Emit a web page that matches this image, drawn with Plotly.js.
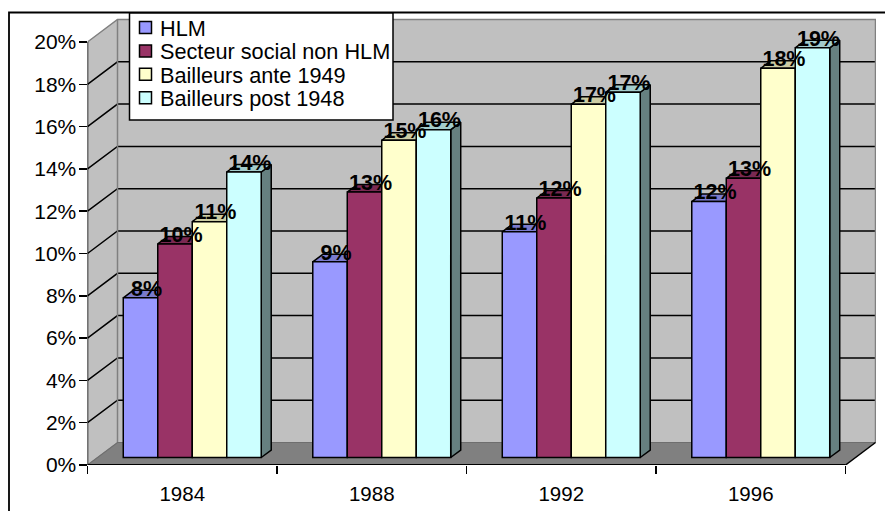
<!DOCTYPE html>
<html><head><meta charset="utf-8">
<script src="https://cdn.plot.ly/plotly-3.0.0.min.js"></script>
<style>html,body{margin:0;padding:0;background:#fff;overflow:hidden}</style>
</head><body><div id="chart" style="width:885px;height:511px"></div>
<script>
const years = ['1984','1988','1992','1996'];
const seriesNames = ['HLM','Secteur social non HLM','Bailleurs ante 1949','Bailleurs post 1948'];
const hlm = [7.55,9.25,10.67,12.1];
const secteur = [10.1,12.55,12.27,13.2];
const ante = [11.15,15,16.7,18.4];
const post = [13.5,15.5,17.27,19.37];
const faceColors = ['#9999FF','#993366','#FFFFCC','#CCFFFF'];
const topColors = ['#7A7ACC','#7A2952','#CCCCA3','#A3CCCC'];
const sideColors = ['#4C4C80','#4C1A33','#808066','#668080'];
const yTicks = [0,2,4,6,8,10,12,14,16,18,20];
const allValues = [hlm,secteur,ante,post];

const W=885,H=511;
const PXX=189.5, PXY=21.15;           // pixels per unit
const L=87.5,R=876,B=465,T=12;
const depthX=30/PXX, depthY=22.5/PXY;
const xRange=[-0.5,-0.5+(R-L)/PXX], yRange=[0,(B-T)/PXY];
const barW=0.182;
const font='"Liberation Sans", Arial, sans-serif';

function poly(xs,ys,fill,line,lw){
  return {type:'scatter',mode:'lines',x:xs.concat(xs[0]),y:ys.concat(ys[0]),fill:'toself',fillcolor:fill,
    line:{color:line||fill,width:lw||0.5},showlegend:false,hoverinfo:'skip',cliponaxis:false,xaxis:'x',yaxis:'y'};
}
function seg(xs,ys,color,w){
  return {type:'scatter',mode:'lines',x:xs,y:ys,line:{color:color,width:w},connectgaps:false,showlegend:false,hoverinfo:'skip',cliponaxis:false,xaxis:'x',yaxis:'y'};
}
const x0=-0.5,x1=3.5;
const traces=[];
// walls and floor
traces.push(poly([x0,x0,x0+depthX,x0+depthX],[0,20,20+depthY,depthY],'#C0C0C0'));
traces.push(poly([x0+depthX,x1+depthX,x1+depthX,x0+depthX],[depthY,depthY,20+depthY,20+depthY],'#C0C0C0'));
traces.push(poly([x0,x1,x1+depthX,x0+depthX],[0,0,depthY,depthY],'#808080'));
// gridlines
let gx=[],gy=[];
yTicks.slice(1,-1).forEach(v=>{gx.push(x0,x0+depthX,x1+depthX,null);gy.push(v,v+depthY,v+depthY,null);});
traces.push(seg(gx,gy,'#000',1.5));
// wall edges
traces.push(seg([x0,x0+depthX,x1+depthX,x1+depthX],[20,20+depthY,20+depthY,depthY],'#808080',1.5));
traces.push(seg([x0+depthX,x0+depthX],[20+depthY,depthY],'#808080',1.5));
traces.push(seg([x0,x0+depthX,x1+depthX],[0,depthY,depthY],'#6e6e6e',1.2));
traces.push(seg([x1,x1+depthX],[0,depthY],'#000',1.5));
// axis lines
traces.push(seg([x0,x0],[0,20],'#000',1.5));
traces.push(seg([x0,x1],[0,0],'#000',1.8));
// bar tops and sides (depth faces), on the base subplot
allValues.forEach((vals,s)=>{
  vals.forEach((v,i)=>{
    const xl=i+depthX/3+(s-2)*barW, xr=xl+barW;
    const yb=depthY/3, yt=yb+v, dx=depthX/3, dy=depthY/3;
    traces.push(poly([xr,xr+dx,xr+dx,xr],[yb,yb+dy,yt+dy,yt],sideColors[s],'#000',1.5));
    traces.push(poly([xl,xr,xr+dx,xl+dx],[yt,yt,yt+dy,yt+dy],topColors[s],'#000',1.5));
  });
});
// front faces: real bars on the overlay subplot
allValues.forEach((vals,s)=>{
  traces.push({type:'bar',name:seriesNames[s],x:years.map((_,i)=>i+depthX/3),y:vals,
    base:vals.map(()=>depthY/3),xaxis:'x2',yaxis:'y2',
    marker:{color:faceColors[s],line:{color:'#000',width:1.5}},hoverinfo:'skip'});
});
// data labels
allValues.forEach((vals,s)=>{
  traces.push({type:'scatter',mode:'text',xaxis:'x2',yaxis:'y2',showlegend:false,hoverinfo:'skip',cliponaxis:false,
    x:vals.map((_,i)=>i+depthX/3+(s-1.5)*barW+depthX/5),
    y:vals.map(v=>v+depthY/3+0.36),
    text:vals.map(v=>Math.round(v)+'%'),textposition:'middle center',
    textfont:{family:font,size:21.5,color:'#000',weight:'bold'}});
});
const px=x=>x/W, py=y=>1-y/H;
const layout={
  width:W,height:H,margin:{l:0,r:0,t:0,b:0},paper_bgcolor:'#fff',plot_bgcolor:'rgba(0,0,0,0)',
  font:{family:font,color:'#000'},
  barmode:'group',bargap:0.272,bargroupgap:0,
  xaxis:{domain:[px(L),px(R)],range:xRange,type:'linear',fixedrange:true,showgrid:false,zeroline:false,showline:false,
    tickmode:'array',tickvals:[0,1,2,3],ticktext:years,tickfont:{size:20.5,family:font},
    ticks:'outside',ticklen:8,tickcolor:'rgba(0,0,0,0)',ticklabelstandoff:2,
    minor:{tickmode:'array',tickvals:[-0.5,0.5,1.5,2.5,3.5],ticks:'outside',ticklen:8,tickcolor:'#000',tickwidth:1.5,showgrid:false}},
  yaxis:{domain:[py(B),py(T)],range:yRange,fixedrange:true,showgrid:false,zeroline:false,showline:false,
    tickmode:'array',tickvals:yTicks,ticktext:yTicks.map(v=>v+'%'),tickfont:{size:21,family:font},
    ticks:'outside',ticklen:8,tickcolor:'#000',tickwidth:1.5,ticklabelstandoff:-2},
  xaxis2:{overlaying:'x',range:xRange,type:'linear',visible:false,fixedrange:true},
  yaxis2:{overlaying:'y',range:yRange,visible:false,fixedrange:true},
  showlegend:true,
  legend:{x:px(125.5),y:py(16),xanchor:'left',yanchor:'top',bgcolor:'rgba(0,0,0,0)',borderwidth:0,
    font:{size:21.7,family:font,color:'#000'},traceorder:'normal',itemclick:false,itemdoubleclick:false},
  shapes:[
    {type:'rect',xref:'paper',yref:'paper',x0:px(9),x1:px(W+20),y0:py(12.5),y1:py(H+20),line:{color:'#000',width:1.8},fillcolor:'rgba(0,0,0,0)',layer:'below'},
    {type:'rect',xref:'paper',yref:'paper',x0:px(129.5),x1:px(393),y0:py(13),y1:py(120),line:{color:'#000',width:1.5},fillcolor:'#fff',layer:'above'}
  ]
};
Plotly.newPlot('chart',traces,layout,{displayModeBar:false,staticPlot:true}).then(()=>{
  document.querySelectorAll('.legend .legendtext').forEach(t=>{
    t.setAttribute('x',+t.getAttribute('x')-5.5);
  });
  document.querySelectorAll('.legend .traces').forEach((g,i)=>{
    g.setAttribute('transform','translate(0,'+(11.5+i*23.4)+')');
  });
});
</script></body></html>
